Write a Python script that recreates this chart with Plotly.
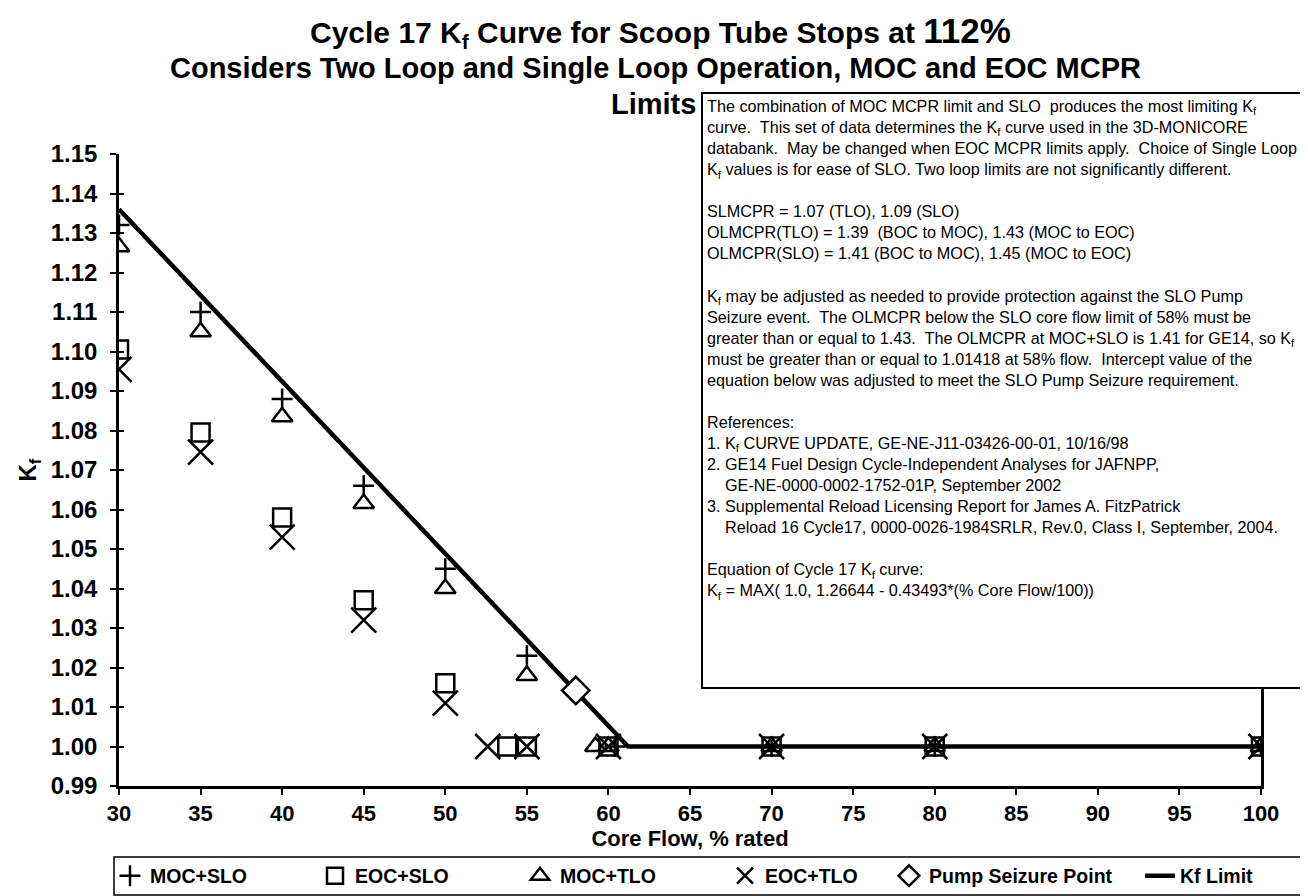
import plotly.graph_objects as go

# ---- data ----
flow_moc_slo = [30, 35, 40, 45, 50, 55, 60.4, 70, 80, 100]
kf_moc_slo = [1.132, 1.110, 1.088, 1.066, 1.045, 1.023, 1.000, 1.000, 1.000, 1.000]

flow_eoc_slo = [30, 35, 40, 45, 50, 53.8, 55, 60, 70, 80, 100]
kf_eoc_slo = [1.1005, 1.0795, 1.058, 1.037, 1.016, 1.000, 1.000, 1.000, 1.000, 1.000, 1.000]

flow_moc_tlo = [30, 35, 40, 45, 50, 55, 59.2, 60, 70, 80, 100]
kf_moc_tlo = [1.1265, 1.105, 1.0835, 1.0615, 1.040, 1.018, 1.000, 1.000, 1.000, 1.000, 1.000]

flow_eoc_tlo = [30, 35, 40, 45, 50, 52.6, 55, 60, 70, 80, 100]
kf_eoc_tlo = [1.0955, 1.0745, 1.053, 1.032, 1.011, 1.000, 1.000, 1.000, 1.000, 1.000, 1.000]

flow_pump = [58]
kf_pump = [1.01418]

flow_limit = [30, 61.2, 100]
kf_limit = [1.136, 1.000, 1.000]

x_ticks = [30, 35, 40, 45, 50, 55, 60, 65, 70, 75, 80, 85, 90, 95, 100]

note_lines = [
    "The combination of MOC MCPR limit and SLO  produces the most limiting K<sub>f</sub>",
    "curve.  This set of data determines the K<sub>f</sub> curve used in the 3D-MONICORE",
    "databank.  May be changed when EOC MCPR limits apply.  Choice of Single Loop",
    "K<sub>f</sub> values is for ease of SLO. Two loop limits are not significantly different.",
    "&nbsp;",
    "SLMCPR = 1.07 (TLO), 1.09 (SLO)",
    "OLMCPR(TLO) = 1.39  (BOC to MOC), 1.43 (MOC to EOC)",
    "OLMCPR(SLO) = 1.41 (BOC to MOC), 1.45 (MOC to EOC)",
    "&nbsp;",
    "K<sub>f</sub> may be adjusted as needed to provide protection against the SLO Pump",
    "Seizure event.  The OLMCPR below the SLO core flow limit of 58% must be",
    "greater than or equal to 1.43.  The OLMCPR at MOC+SLO is 1.41 for GE14, so K<sub>f</sub>",
    "must be greater than or equal to 1.01418 at 58% flow.  Intercept value of the",
    "equation below was adjusted to meet the SLO Pump Seizure requirement.",
    "&nbsp;",
    "References:",
    "1. K<sub>f</sub> CURVE UPDATE, GE-NE-J11-03426-00-01, 10/16/98",
    "2. GE14 Fuel Design Cycle-Independent Analyses for JAFNPP,",
    "&nbsp;&nbsp;&nbsp;&nbsp;GE-NE-0000-0002-1752-01P, September 2002",
    "3. Supplemental Reload Licensing Report for James A. FitzPatrick",
    "&nbsp;&nbsp;&nbsp;&nbsp;Reload 16 Cycle17, 0000-0026-1984SRLR, Rev.0, Class I, September, 2004.",
    "&nbsp;",
    "Equation of Cycle 17 K<sub>f</sub> curve:",
    "K<sub>f</sub> = MAX( 1.0, 1.26644 - 0.43493*(% Core Flow/100))",
]

FONT = "Liberation Sans, Arial, sans-serif"
W, H = 1308, 896
ML, MR, MT, MB = 111, 55, 146, 118
PW = W - ML - MR
PH = H - MT - MB


def px_x(p):
    return (p - ML) / PW


def px_y(p):
    return (H - MB - p) / PH


fig = go.Figure()

fig.add_trace(go.Scatter(
    x=flow_limit, y=kf_limit, mode="lines", name="Kf Limit",
    line=dict(color="black", width=4.5), legend="legend2", legendrank=6))

fig.add_trace(go.Scatter(
    x=flow_moc_slo, y=kf_moc_slo, mode="markers", name="MOC+SLO",
    marker=dict(symbol="cross-thin", size=15, color="black",
                line=dict(color="black", width=2.5)), legendrank=1))
fig.add_trace(go.Scatter(
    x=flow_eoc_slo, y=kf_eoc_slo, mode="markers", name="EOC+SLO",
    marker=dict(symbol="square-open", size=18, color="black",
                line=dict(color="black", width=2.5)), legendrank=2))
fig.add_trace(go.Scatter(
    x=flow_moc_tlo, y=kf_moc_tlo, mode="markers", name="MOC+TLO",
    marker=dict(symbol="triangle-up-open", size=18, color="black",
                line=dict(color="black", width=2.5)), legendrank=3))
fig.add_trace(go.Scatter(
    x=flow_eoc_tlo, y=kf_eoc_tlo, mode="markers", name="EOC+TLO",
    marker=dict(symbol="x-thin", size=25, color="black",
                line=dict(color="black", width=2.5)), legendrank=4))
fig.add_trace(go.Scatter(
    x=flow_pump, y=kf_pump, mode="markers", name="Pump Seizure Point",
    marker=dict(symbol="diamond", size=21, color="white",
                line=dict(color="black", width=2.5)), legend="legend2", legendrank=5))

# empty helper trace so the inner tick marks of the value axis are drawn
fig.add_trace(go.Scatter(x=[], y=[], yaxis="y2", showlegend=False,
                         hoverinfo="skip", mode="markers"))

# title lines
fig.add_annotation(
    x=px_x(652), y=px_y(24), xref="paper", yref="paper",
    xanchor="center", yanchor="middle", showarrow=False,
    text="Cycle 17 K<sub>f</sub> Curve for Scoop Tube Stops at <span style='font-size:35px'>112%</span>",
    font=dict(family=FONT, size=30, color="black", weight="bold"))
fig.add_annotation(
    x=px_x(647), y=px_y(60), xref="paper", yref="paper",
    xanchor="center", yanchor="middle", showarrow=False,
    text="Considers Two Loop and Single Loop Operation, MOC and EOC MCPR",
    font=dict(family=FONT, size=29, color="black", weight="bold"))
fig.add_annotation(
    x=px_x(645), y=px_y(96), xref="paper", yref="paper",
    xanchor="center", yanchor="middle", showarrow=False,
    text="Limits",
    font=dict(family=FONT, size=29, color="black", weight="bold"))

# note box
fig.add_shape(type="rect", xref="paper", yref="paper",
              x0=px_x(694), x1=px_x(1299), y0=px_y(680), y1=px_y(85),
              fillcolor="white", line=dict(color="black", width=2), layer="above")
fig.add_annotation(
    x=px_x(697), y=px_y(87), xref="paper", yref="paper",
    xanchor="left", yanchor="top", showarrow=False, align="left",
    text="<br>".join(note_lines),
    font=dict(family=FONT, size=16.2, color="black"))

# legend frame
fig.add_shape(type="rect", xref="paper", yref="paper",
              x0=px_x(106), x1=px_x(1301), y0=px_y(887), y1=px_y(849),
              fillcolor="rgba(0,0,0,0)", line=dict(color="black", width=1.5))

legend_font = dict(family=FONT, size=19.5, color="black", weight="bold")

fig.update_layout(
    width=W, height=H,
    margin=dict(l=ML, r=MR, t=MT, b=MB),
    paper_bgcolor="white", plot_bgcolor="white",
    font=dict(family=FONT, color="black"),
    showlegend=True,
    legend=dict(
        orientation="h", xref="container", yref="container",
        x=102 / W, y=1 - 868 / H, xanchor="left", yanchor="middle",
        borderwidth=0, bgcolor="rgba(0,0,0,0)", font=legend_font,
        entrywidth=160, entrywidthmode="pixels", traceorder="normal"),
    legend2=dict(
        orientation="h", xref="container", yref="container",
        x=881 / W, y=1 - 868 / H, xanchor="left", yanchor="middle",
        borderwidth=0, bgcolor="rgba(0,0,0,0)", font=legend_font,
        entrywidth=206, entrywidthmode="pixels", traceorder="normal"),
    xaxis=dict(
        range=[30, 100], tickvals=x_ticks, showgrid=False, zeroline=False,
        showline=True, linecolor="black", linewidth=2.5,
        ticks="outside", ticklen=6, tickwidth=1.5, tickcolor="black",
        ticklabelstandoff=0,
        tickfont=dict(family=FONT, size=22, color="black", weight="bold"),
        title=dict(text="Core Flow, % rated", standoff=2,
                   font=dict(family=FONT, size=22, color="black", weight="bold"))),
    yaxis=dict(
        range=[0.99, 1.15], dtick=0.01, tickformat=".2f", showgrid=False,
        zeroline=False, showline=True, linecolor="black", linewidth=2.5,
        mirror=True,
        ticks="outside", ticklen=6, tickwidth=1.5, tickcolor="black",
        ticklabelstandoff=8,
        tickfont=dict(family=FONT, size=24, color="black", weight="bold"),
        title=dict(text="K<sub>f</sub>", standoff=8,
                   font=dict(family=FONT, size=24, color="black", weight="bold"))),
    yaxis2=dict(
        overlaying="y", side="left", range=[0.99, 1.15], dtick=0.01,
        showgrid=False, zeroline=False, showline=False, showticklabels=False,
        ticks="inside", ticklen=5, tickwidth=1.5, tickcolor="black"),
)

fig.write_html("out.html")
